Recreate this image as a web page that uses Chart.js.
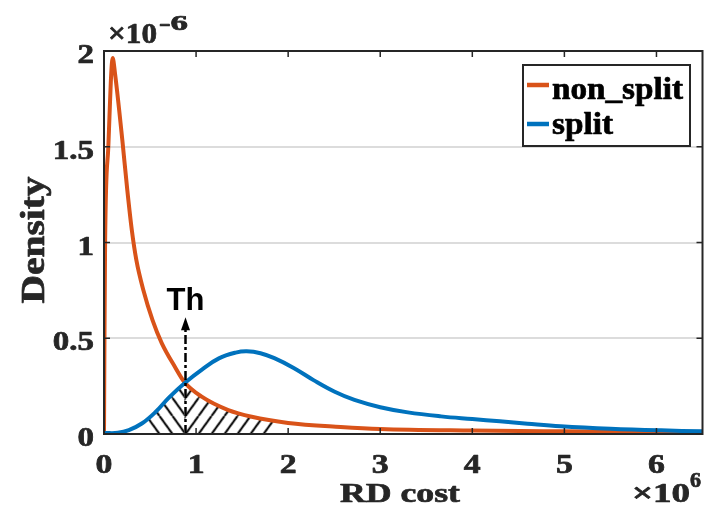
<!DOCTYPE html>
<html>
<head>
<meta charset="utf-8">
<script src="https://cdn.jsdelivr.net/npm/chart.js@4/dist/chart.umd.min.js"></script>
<style>
  html, body { margin: 0; padding: 0; background: #ffffff; }
  canvas { display: block; }
</style>
</head>
<body>
<canvas id="c" width="704" height="530"></canvas>
<script>
// ---- data (x in units of 1e6, y in units of 1e-6) ----
const nonSplitX = [0, 0.005, 0.012, 0.047, 0.0945, 0.119, 0.199, 0.253, 0.302, 0.351, 0.427, 0.527, 0.627, 0.771, 0.872, 1.061, 1.35, 1.604, 2.0, 2.57, 3.0, 4.0, 5.0, 6.0, 6.5];
const nonSplitY = [0, 0.5, 1.0, 1.5, 1.963, 1.885, 1.535, 1.274, 1.065, 0.909, 0.752, 0.595, 0.475, 0.35, 0.272, 0.195, 0.125, 0.09, 0.058, 0.037, 0.026, 0.018, 0.014, 0.011, 0.01];

const splitX = [0, 0.15, 0.27, 0.415, 0.56, 0.705, 0.88, 1.067, 1.248, 1.43, 1.55, 1.7, 1.85, 2.06, 2.28, 2.5, 2.72, 3.0, 3.3, 3.66, 4.0, 4.3, 4.6, 4.96, 5.5, 6.05, 6.5];
const splitY = [0.005, 0.006, 0.02, 0.056, 0.115, 0.19, 0.268, 0.338, 0.395, 0.425, 0.432, 0.422, 0.396, 0.345, 0.28, 0.222, 0.178, 0.14, 0.113, 0.092, 0.078, 0.066, 0.054, 0.041, 0.028, 0.019, 0.014];

// hatched overlap region (left part under split, right part under non_split)
const hatchLeftX = [0.48, 0.56, 0.705, 0.872];
const hatchLeftY = [0.085, 0.115, 0.19, 0.268];
const hatchRightX = [0.872, 1.061, 1.35, 1.604, 1.85];
const hatchRightY = [0.268, 0.195, 0.125, 0.09, 0.068];

const thresholdX = 0.88;   // Th position
const thresholdArrowY = 0.61;

const xTickValues = [0, 1, 2, 3, 4, 5, 6];
const xTickLabels = ['0', '1', '2', '3', '4', '5', '6'];
const yTickValues = [0, 0.5, 1, 1.5, 2];
const yTickLabels = ['0', '0.5', '1', '1.5', '2'];

const seriesNames = ['non_split', 'split'];

// ---- styles ----
const ORANGE = '#D95319';
const BLUE = '#0072BD';
const AXIS = '#262626';
const SERIF = '"Liberation Serif", "Times New Roman", serif';
const SANS = '"Liberation Sans", Arial, sans-serif';

const canvas = document.getElementById('c');
const ctx0 = canvas.getContext('2d');

function makeHatch(dir) {
  const w = 13, h = 18;
  const t = document.createElement('canvas');
  t.width = w; t.height = h;
  const c = t.getContext('2d');
  c.strokeStyle = '#000';
  c.lineWidth = 2;
  c.beginPath();
  for (const off of [-w, 0, w]) {
    if (dir === 'back') { c.moveTo(off, 0); c.lineTo(off + w, h); }
    else { c.moveTo(off, h); c.lineTo(off + w, 0); }
  }
  c.stroke();
  return ctx0.createPattern(t, 'repeat');
}
const hatchBack = makeHatch('back');
const hatchFwd = makeHatch('fwd');

function pts(xs, ys) { return xs.map((x, i) => ({ x: x, y: ys[i] })); }

function drawText(ctx, s, x, y, font, sx, align, color, heavy) {
  ctx.save();
  ctx.translate(x, y);
  ctx.scale(sx, 1);
  ctx.font = font;
  ctx.textAlign = align;
  ctx.textBaseline = 'alphabetic';
  ctx.fillStyle = color || AXIS;
  ctx.fillText(s, 0, 0);
  if (heavy !== false) {
    ctx.strokeStyle = color || AXIS;
    ctx.lineWidth = 0.7;
    ctx.lineJoin = 'round';
    ctx.strokeText(s, 0, 0);
  }
  ctx.restore();
}
function drawFit(ctx, s, x, y, font, width, align, color) {
  ctx.save();
  ctx.font = font;
  const w = ctx.measureText(s).width;
  ctx.restore();
  drawText(ctx, s, x, y, font, width / w, align, color);
}

const decor = {
  id: 'decor',
  beforeDatasetsDraw(chart) {
    const xs = chart.scales.x, ys = chart.scales.y;
    const px = Math.round(xs.getPixelForValue(thresholdX)) + 0.5;
    const py = ys.getPixelForValue(0);
    const m = new DOMMatrix([1, 0, 0, 1, px, py]);
    hatchBack.setTransform(m);
    hatchFwd.setTransform(m);
  },
  afterDatasetsDraw(chart) {
    const ctx = chart.ctx;
    const xs = chart.scales.x, ys = chart.scales.y;
    const px = Math.round(xs.getPixelForValue(thresholdX)) + 0.5;
    const yBot = ys.getPixelForValue(0);
    const yTip = ys.getPixelForValue(thresholdArrowY);
    ctx.save();
    ctx.strokeStyle = '#000';
    ctx.lineWidth = 2.5;
    ctx.setLineDash([9, 3, 3, 3]);
    ctx.beginPath();
    ctx.moveTo(px, yBot);
    ctx.lineTo(px, yTip + 12);
    ctx.stroke();
    ctx.setLineDash([]);
    ctx.fillStyle = '#000';
    ctx.beginPath();
    ctx.moveTo(px, yTip);
    ctx.lineTo(px - 4.5, yTip + 13);
    ctx.lineTo(px + 4.5, yTip + 13);
    ctx.closePath();
    ctx.fill();
    ctx.restore();
    drawText(ctx, 'Th', px, yTip - 7, 'bold 31px ' + SANS, 1, 'center', '#000', false);
  },
  afterDraw(chart) {
    const ctx = chart.ctx;
    const a = chart.chartArea;
    const xs = chart.scales.x, ys = chart.scales.y;
    ctx.save();
    ctx.strokeStyle = AXIS;
    ctx.lineWidth = 2;
    ctx.strokeRect(a.left, a.top, a.right - a.left, a.bottom - a.top);
    ctx.lineWidth = 1.5;
    ctx.beginPath();
    xTickValues.forEach(v => {
      const x = xs.getPixelForValue(v);
      ctx.moveTo(x, a.bottom); ctx.lineTo(x, a.bottom - 6);
      ctx.moveTo(x, a.top); ctx.lineTo(x, a.top + 6);
    });
    yTickValues.forEach(v => {
      const y = ys.getPixelForValue(v);
      ctx.moveTo(a.left, y); ctx.lineTo(a.left + 6, y);
      ctx.moveTo(a.right, y); ctx.lineTo(a.right - 6, y);
    });
    ctx.stroke();
    ctx.restore();

    const tickFont = 'bold 27px ' + SERIF;
    xTickValues.forEach((v, i) => {
      drawText(ctx, xTickLabels[i], xs.getPixelForValue(v), 473, tickFont, 1.25, 'center');
    });
    yTickValues.forEach((v, i) => {
      drawText(ctx, yTickLabels[i], 94, ys.getPixelForValue(v) + 12, tickFont, 1.22, 'right');
    });

    // exponent labels
    drawFit(ctx, '\u00d710', 108, 43, 'bold 30px ' + SERIF, 49, 'left');
    drawFit(ctx, '-6', 159, 30, 'bold 22px ' + SERIF, 29, 'left');
    drawFit(ctx, '\u00d710', 632, 502, 'bold 27px ' + SERIF, 58, 'left');
    drawFit(ctx, '6', 690, 487, 'bold 20px ' + SERIF, 11, 'left');

    // axis titles
    drawFit(ctx, 'RD cost', 340, 502, 'bold 28px ' + SERIF, 120, 'left');
    ctx.save();
    ctx.translate(44, 240);
    ctx.rotate(-Math.PI / 2);
    drawFit(ctx, 'Density', 0, 0, 'bold 34px ' + SERIF, 127, 'center');
    ctx.restore();

    // legend
    ctx.save();
    ctx.fillStyle = '#ffffff';
    ctx.fillRect(523, 65, 167, 81);
    ctx.strokeStyle = AXIS;
    ctx.lineWidth = 2;
    ctx.strokeRect(523, 65, 167, 81);
    ctx.lineWidth = 4.5;
    ctx.strokeStyle = ORANGE;
    ctx.beginPath(); ctx.moveTo(527, 85); ctx.lineTo(549, 85); ctx.stroke();
    ctx.strokeStyle = BLUE;
    ctx.beginPath(); ctx.moveTo(527, 124); ctx.lineTo(549, 124); ctx.stroke();
    ctx.restore();
    drawFit(ctx, seriesNames[0], 552, 99, 'bold 32px ' + SERIF, 131, 'left', '#000');
    drawFit(ctx, seriesNames[1], 552, 134, 'bold 32px ' + SERIF, 61, 'left', '#000');
  }
};

new Chart(canvas, {
  type: 'line',
  data: {
    datasets: [
      {
        label: seriesNames[1],
        data: pts(splitX, splitY),
        borderColor: BLUE,
        borderWidth: 4,
        tension: 0.4,
        fill: false,
        pointRadius: 0,
        order: 0
      },
      {
        label: seriesNames[0],
        data: pts(nonSplitX, nonSplitY),
        borderColor: ORANGE,
        borderWidth: 4,
        cubicInterpolationMode: 'monotone',
        fill: false,
        pointRadius: 0,
        order: 1
      },
      {
        label: 'hatchLeft',
        data: pts(hatchLeftX, hatchLeftY),
        borderWidth: 0,
        borderColor: 'rgba(0,0,0,0)',
        backgroundColor: hatchBack,
        tension: 0.4,
        fill: 'origin',
        pointRadius: 0,
        order: 2
      },
      {
        label: 'hatchRight',
        data: pts(hatchRightX, hatchRightY),
        borderWidth: 0,
        borderColor: 'rgba(0,0,0,0)',
        backgroundColor: hatchFwd,
        cubicInterpolationMode: 'monotone',
        fill: 'origin',
        pointRadius: 0,
        order: 2
      }
    ]
  },
  options: {
    responsive: false,
    animation: false,
    layout: { padding: { left: 104, right: 1.5, top: 51, bottom: 96 } },
    plugins: { legend: { display: false }, tooltip: { enabled: false } },
    scales: {
      x: {
        type: 'linear', min: 0, max: 6.5,
        grid: { display: false, drawTicks: false },
        border: { display: false },
        ticks: { display: false, stepSize: 1 }
      },
      y: {
        type: 'linear', min: 0, max: 2,
        grid: { color: '#dcdcdc', lineWidth: 2, drawTicks: false },
        border: { display: false },
        ticks: { display: false, stepSize: 0.5 }
      }
    }
  },
  plugins: [decor]
});
</script>
</body>
</html>
